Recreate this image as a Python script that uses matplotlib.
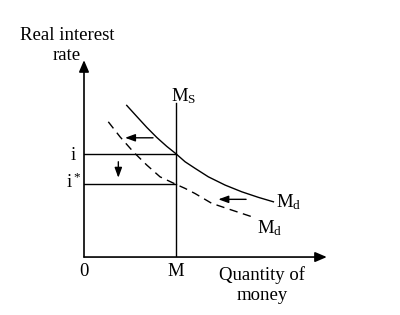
import numpy as np
import matplotlib.pyplot as plt

plt.rcParams['font.family'] = ['Liberation Serif', 'DejaVu Serif']
plt.rcParams['mathtext.fontset'] = 'custom'
plt.rcParams['mathtext.rm'] = 'Liberation Serif'
plt.rcParams['mathtext.it'] = 'Liberation Serif:italic'

# money demand curves (quantity, rate)
md_x = [0.464, 0.573, 0.682, 0.790, 0.899, 1.0, 1.098, 1.207, 1.351, 1.533, 1.714, 1.895, 2.058]
md_y = [1.469, 1.362, 1.256, 1.159, 1.072, 1.0, 0.923, 0.859, 0.777, 0.697, 0.632, 0.578, 0.535]
md2_x = [0.264, 0.391, 0.536, 0.682, 0.826, 1.0, 1.098, 1.207, 1.388, 1.605, 1.859]
md2_y = [1.310, 1.165, 1.019, 0.891, 0.777, 0.704, 0.665, 0.615, 0.520, 0.455, 0.380]

m_supply = 1.0
ms_top = 1.488
i_rate = 1.0
i_star = 0.704

# shift arrows: (x_from, y_from, x_to, y_to)
shift_arrows = [(0.75, 1.155, 0.446, 1.155),
                (1.761, 0.559, 1.46, 0.559),
                (0.373, 0.923, 0.373, 0.768)]

xmax, ymax = 2.638, 1.907

fig = plt.figure(figsize=(4.0, 3.15), dpi=100)
ax = fig.add_axes([0.21, 0.184, 0.607, 0.625])
ax.set_xlim(0, xmax)
ax.set_ylim(0, ymax)
ax.axis('off')

# axes with arrow heads
for tip in [(xmax, 0), (0, ymax)]:
    ax.annotate('', xy=tip, xytext=(0, 0), annotation_clip=False,
                arrowprops=dict(arrowstyle='-|>,head_length=0.7,head_width=0.3',
                                color='black', lw=1.2, shrinkA=0, shrinkB=0))

ax.plot(md_x, md_y, color='black', lw=1.0)
ax.plot(md2_x, md2_y, color='black', lw=1.0, dashes=(6, 4))
ax.plot([m_supply, m_supply], [0, ms_top], color='black', lw=1.0)
ax.plot([0, m_supply], [i_rate, i_rate], color='black', lw=1.0)
ax.plot([0, m_supply], [i_star, i_star], color='black', lw=1.0)

for x0, y0, x1, y1 in shift_arrows:
    ax.annotate('', xy=(x1, y1), xytext=(x0, y0),
                arrowprops=dict(arrowstyle='-|>,head_length=0.6,head_width=0.22',
                                color='black', lw=1.0, shrinkA=0, shrinkB=0))

fs = 13.5
ax.text(-0.185, 2.05, 'Real interest\nrate', ha='center', va='center',
        fontsize=fs, linespacing=1.25, clip_on=False)
ax.text(0.946, 1.56, r'M$_\mathrm{S}$', ha='left', va='center', fontsize=fs)
ax.text(-0.116, i_rate - 0.02, 'i', ha='center', va='center', fontsize=fs, clip_on=False)
ax.text(-0.11, i_star + 0.02, r'i$^*$', ha='center', va='center', fontsize=fs, clip_on=False)
ax.text(0, -0.142, '0', ha='center', va='center', fontsize=fs, clip_on=False)
ax.text(m_supply, -0.142, 'M', ha='center', va='center', fontsize=fs, clip_on=False)
ax.text(1.935, -0.27, 'Quantity of\nmoney', ha='center', va='center',
        fontsize=fs, linespacing=1.2, clip_on=False)
ax.text(2.09, 0.53, r'M$_\mathrm{d}$', ha='left', va='center', fontsize=fs)
ax.text(1.877, 0.28, r'M$_\mathrm{d}$', ha='left', va='center', fontsize=fs)

fig.savefig('out.png', dpi=100, facecolor='white')
